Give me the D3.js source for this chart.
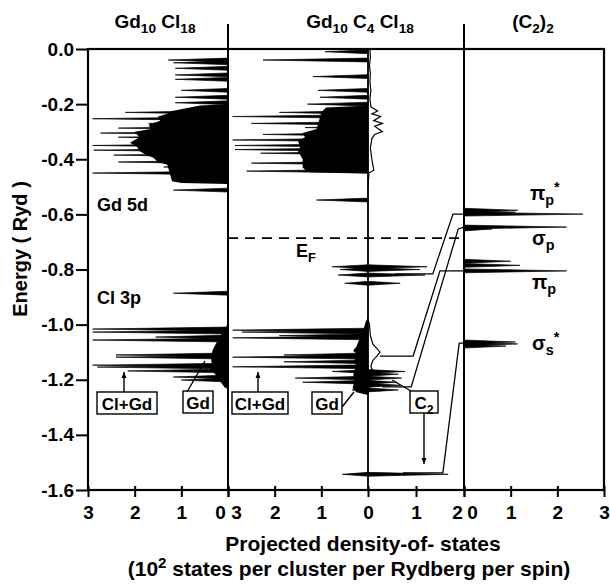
<!DOCTYPE html>
<html>
<head>
<meta charset="utf-8">
<script src="https://cdn.jsdelivr.net/npm/d3@7"></script>
<style>
body { margin: 0; background: #fff; }
text { font-family: "Liberation Sans", Arial, sans-serif; fill: #000; font-weight: bold; }
</style>
</head>
<body>
<script>
// energy ticks (Ryd)
var yTicks = [0, -0.2, -0.4, -0.6, -0.8, -1.0, -1.2, -1.4, -1.6]
var yTickLabels = ['0.0', '-0.2', '-0.4', '-0.6', '-0.8', '-1.0', '-1.2', '-1.4', '-1.6']

// panel 1: Gd10Cl18  [energy, dos]
var p1Spikes = [[-0.040, 1.28], [-0.050, 1.17], [-0.070, 1.13], [-0.094, 1.13], [-0.110, 1.13],
  [-0.150, 1.0], [-0.175, 1.13], [-0.195, 1.13], [-0.230, 2.2], [-0.253, 2.9], [-0.270, 1.7],
  [-0.287, 2.35], [-0.305, 2.73], [-0.320, 2.35], [-0.350, 2.9], [-0.367, 2.88], [-0.385, 2.45],
  [-0.410, 2.35], [-0.428, 1.38], [-0.450, 2.9], [-0.512, 1.17],
  [-0.886, 1.17],
  [-1.016, 2.9], [-1.027, 2.9], [-1.045, 1.55], [-1.056, 2.9], [-1.110, 2.4], [-1.118, 2.4],
  [-1.147, 2.9], [-1.154, 2.8], [-1.168, 2.15], [-1.190, 1.17], [-1.201, 1.0]]
var p1Band5d = [[-0.200, 0], [-0.205, 0.6], [-0.215, 0.9], [-0.225, 1.2], [-0.235, 1.3], [-0.245, 1.5],
  [-0.260, 1.45], [-0.275, 1.7], [-0.290, 1.65], [-0.300, 2.0], [-0.320, 1.9], [-0.340, 2.1],
  [-0.355, 1.95], [-0.370, 1.9], [-0.385, 1.75], [-0.395, 1.6], [-0.410, 1.5], [-0.420, 1.3],
  [-0.450, 1.25], [-0.480, 1.2], [-0.486, 1.0], [-0.490, 0]]
var p1BandGd = [[-0.995, 0], [-1.010, 0.05], [-1.030, 0.12], [-1.060, 0.23], [-1.092, 0.33],
  [-1.110, 0.35], [-1.130, 0.36], [-1.150, 0.33], [-1.160, 0.38], [-1.175, 0.3], [-1.190, 0.23],
  [-1.210, 0.15], [-1.226, 0.08], [-1.235, 0]]

// panel 2: Gd10C4Cl18, Gd + Cl part (to the left)
var p2Spikes = [[-0.010, 0.92], [-0.040, 2.25], [-0.100, 1.18], [-0.150, 1.07], [-0.175, 1.03],
  [-0.200, 1.3], [-0.230, 1.9], [-0.245, 2.9], [-0.270, 2.5], [-0.285, 1.35], [-0.310, 2.25],
  [-0.330, 2.9], [-0.350, 2.85], [-0.365, 2.85], [-0.378, 2.3], [-0.400, 1.35], [-0.414, 2.5],
  [-0.443, 2.6], [-0.548, 1.1],
  [-0.790, 0.77], [-0.800, 0.6], [-0.820, 0.64], [-0.850, 0.5],
  [-1.020, 2.9], [-1.027, 2.7], [-1.040, 1.9], [-1.048, 2.9], [-1.110, 1.8], [-1.118, 2.9],
  [-1.135, 1.8], [-1.153, 2.9], [-1.170, 0.77], [-1.194, 1.56], [-1.209, 1.4], [-1.237, 0.34],
  [-1.543, 0.55]]
var p2Band5d = [[-0.205, 0], [-0.212, 0.9], [-0.230, 1.0], [-0.260, 1.05], [-0.290, 1.1],
  [-0.305, 1.4], [-0.320, 1.35], [-0.335, 1.5], [-0.355, 1.45], [-0.370, 1.5], [-0.400, 1.4],
  [-0.430, 1.4], [-0.446, 1.3], [-0.452, 0]]
var p2BandGd = [[-0.975, 0], [-0.990, 0.05], [-1.020, 0.1], [-1.050, 0.18], [-1.080, 0.25],
  [-1.095, 0.32], [-1.110, 0.22], [-1.130, 0.3], [-1.150, 0.25], [-1.170, 0.3], [-1.190, 0.32],
  [-1.210, 0.3], [-1.230, 0.33], [-1.245, 0.25], [-1.255, 0]]

// panel 2: C2 part (to the right)
var c2Spikes = [[-0.790, 1.23], [-0.800, 1.08], [-0.820, 1.19], [-0.850, 0.67],
  [-1.170, 0.77], [-1.180, 0.63], [-1.194, 0.7], [-1.209, 0.6], [-1.220, 0.67], [-1.237, 0.63],
  [-1.543, 1.67]]
var c2Upper = [[0, 0.04], [-0.03, 0.05], [-0.06, 0.03], [-0.09, 0.05], [-0.12, 0.04], [-0.15, 0.06],
  [-0.18, 0.04], [-0.21, 0.06], [-0.225, 0.2], [-0.235, 0.08], [-0.245, 0.26], [-0.26, 0.12],
  [-0.27, 0.3], [-0.28, 0.14], [-0.29, 0.22], [-0.30, 0.3], [-0.31, 0.14], [-0.325, 0.08],
  [-0.36, 0.05], [-0.40, 0.08], [-0.44, 0.12], [-0.45, 0.02], [-0.50, 0]]
var c2Lower = [[-0.98, 0], [-1.00, 0.03], [-1.04, 0.05], [-1.07, 0.1], [-1.09, 0.2], [-1.10, 0.25],
  [-1.115, 0.18], [-1.13, 0.1], [-1.15, 0.06], [-1.17, 0.1], [-1.20, 0.05], [-1.25, 0]]

// panel 3: (C2)2
var p3Spikes = [[-0.585, 1.15], [-0.592, 1.1], [-0.599, 2.55], [-0.646, 2.2], [-0.653, 0.6],
  [-0.770, 1.0], [-0.785, 1.2], [-0.805, 2.2], [-1.063, 1.1], [-1.070, 1.15], [-1.078, 0.9]]

// correlation lines, [energy, C2 dos in panel 2]
var corrLines = [
  [[-0.599, 2.0], [-0.599, 1.77], [-0.816, 1.35], [-0.816, 0.56]],
  [[-0.646, 2.0], [-0.653, 1.88], [-1.226, 0.9], [-1.226, 0.3]],
  [[-0.805, 2.0], [-0.805, 1.5], [-1.114, 0.94], [-1.114, 0.25]],
  [[-1.067, 2.0], [-1.067, 1.9], [-1.538, 1.56], [-1.538, 0.73]]
]
var fermi = -0.686

var svg = d3.select('body')
  .append('svg')
  .attr('width', 610)
  .attr('height', 585)

var y = d3.scaleLinear().domain([0, -1.6]).range([49, 490])
var x1 = d3.scaleLinear().domain([0, 3]).range([228, 88])
var x2L = d3.scaleLinear().domain([0, 3]).range([368, 228])
var x2R = d3.scaleLinear().domain([0, 2]).range([368, 464])
var x3 = d3.scaleLinear().domain([0, 3]).range([464, 604])

var hw = 0.007

function drawSpikes(xs, data) {
  svg.append('g').selectAll('path')
    .data(data)
    .enter().append('path')
    .attr('d', function(d) {
      return 'M' + xs(0) + ',' + y(d[0] + hw) + 'L' + xs(d[1]) + ',' + y(d[0]) +
        'L' + xs(0) + ',' + y(d[0] - hw) + 'Z'
    })
    .attr('fill', 'black')
    .attr('stroke', 'black')
    .attr('stroke-width', 0.7)
}

function drawBand(xs, data) {
  var area = d3.area()
    .y(function(d) { return y(d[0]) })
    .x0(xs(0))
    .x1(function(d) { return xs(d[1]) })
  svg.append('path').datum(data)
    .attr('d', area)
    .attr('fill', 'black')
}

drawBand(x1, p1Band5d)
drawBand(x1, p1BandGd)
drawSpikes(x1, p1Spikes)
drawBand(x2L, p2Band5d)
drawBand(x2L, p2BandGd)
drawSpikes(x2L, p2Spikes)
drawSpikes(x2R, c2Spikes)
drawSpikes(x3, p3Spikes)

var wiggle = d3.line()
  .x(function(d) { return x2R(d[1]) })
  .y(function(d) { return y(d[0]) })
;[c2Upper, c2Lower].forEach(function(c) {
  svg.append('path').datum(c)
    .attr('d', wiggle)
    .attr('fill', 'none')
    .attr('stroke', 'black')
    .attr('stroke-width', 1.2)
})

svg.append('g').selectAll('path')
  .data(corrLines)
  .enter().append('path')
  .attr('d', wiggle)
  .attr('fill', 'none')
  .attr('stroke', 'black')
  .attr('stroke-width', 1.3)

// Fermi level
svg.append('line')
  .attr('x1', x2L(3)).attr('x2', x3(0))
  .attr('y1', y(fermi)).attr('y2', y(fermi))
  .attr('stroke', 'black')
  .attr('stroke-width', 1.8)
  .attr('stroke-dasharray', '10,7')

// frame and panel dividers
svg.append('rect')
  .attr('x', 88).attr('y', 49)
  .attr('width', 516).attr('height', 441)
  .attr('fill', 'none')
  .attr('stroke', 'black')
  .attr('stroke-width', 2.2)
;[228, 464].forEach(function(xv) {
  svg.append('line')
    .attr('x1', xv).attr('x2', xv)
    .attr('y1', 24).attr('y2', 490)
    .attr('stroke', 'black').attr('stroke-width', 2)
})
svg.append('line')
  .attr('x1', 368).attr('x2', 368)
  .attr('y1', 49).attr('y2', 490)
  .attr('stroke', 'black').attr('stroke-width', 1.8)

// axes
var yAxis = svg.append('g')
  .attr('transform', 'translate(88,0)')
  .call(d3.axisLeft(y).tickValues(yTicks).tickSize(12).tickPadding(2)
    .tickFormat(function(d, i) { return yTickLabels[i] }))
yAxis.select('.domain').remove()
yAxis.selectAll('line').attr('stroke-width', 2)
yAxis.selectAll('text').attr('font-size', 19).attr('font-family', '"Liberation Sans", Arial')
  .attr('font-weight', 'bold')

function bottomAxis(xs, ticks, shift) {
  var g = svg.append('g')
    .attr('transform', 'translate(0,490)')
    .call(d3.axisBottom(xs).tickValues(ticks).tickSize(7).tickPadding(9)
      .tickFormat(d3.format('d')))
  g.select('.domain').remove()
  g.selectAll('line').attr('stroke-width', 2).attr('y1', -4)
  g.selectAll('text')
    .attr('font-size', 19)
    .attr('font-family', '"Liberation Sans", Arial')
    .attr('font-weight', 'bold')
    .attr('dx', function(d) { return shift[d] || 0 })
}
bottomAxis(x1, [3, 2, 1, 0], {0: -8})
bottomAxis(x2L, [3, 2, 1, 0], {3: 8})
bottomAxis(x2R, [1, 2], {2: -7})
bottomAxis(x3, [0, 1, 2, 3], {0: 8})

// text helper: parts of [string, 'sub' | 'sup' | '']
function rich(x, yy, parts, size, anchor) {
  var t = svg.append('text')
    .attr('x', x).attr('y', yy)
    .attr('font-size', size)
    .attr('text-anchor', anchor || 'start')
  var off = 0
  parts.forEach(function(p) {
    var target = p[1] === 'sub' ? 5 : p[1] === 'sup' ? -8 : 0
    t.append('tspan')
      .attr('dy', target - off)
      .attr('font-size', p[1] ? size * 0.72 : size)
      .text(p[0])
    off = target
  })
  return t
}

rich(155, 28, [['Gd', ''], ['10', 'sub'], [' Cl', ''], ['18', 'sub']], 19, 'middle')
rich(360, 28, [['Gd', ''], ['10', 'sub'], [' C', ''], ['4', 'sub'], ['  Cl', ''], ['18', 'sub']], 19, 'middle')
rich(533, 28, [['(C', ''], ['2', 'sub'], [')', ''], ['2', 'sub']], 19, 'middle')

rich(97, 211, [['Gd  5d', '']], 18)
rich(97, 304, [['Cl  3p', '']], 18)
rich(296, 257, [['E', ''], ['F', 'sub']], 18)

rich(530, 200, [['π', ''], ['p', 'sub'], ['*', 'sup']], 20)
rich(532, 245, [['σ', ''], ['p', 'sub']], 20)
rich(532, 289, [['π', ''], ['p', 'sub']], 20)
rich(532, 350, [['σ', ''], ['s', 'sub'], ['*', 'sup']], 20)

svg.append('text')
  .attr('transform', 'translate(27,249) rotate(-90)')
  .attr('text-anchor', 'middle')
  .attr('font-size', 20)
  .text('Energy ( Ryd )')
rich(363, 551, [['Projected density-of- states', '']], 21, 'middle')
rich(349, 576, [['(10', ''], ['2', 'sup'], ['  states per cluster per Rydberg per spin)', '']], 21, 'middle')

// labelled boxes
var boxes = [
  {x: 97, y: 392, w: 60, parts: [['Cl+Gd', '']]},
  {x: 183, y: 391, w: 30, parts: [['Gd', '']]},
  {x: 232, y: 392, w: 56, parts: [['Cl+Gd', '']]},
  {x: 312, y: 392, w: 30, parts: [['Gd', '']]},
  {x: 410, y: 391, w: 28, parts: [['C', ''], ['2', 'sub']]}
]
boxes.forEach(function(b) {
  svg.append('rect')
    .attr('x', b.x).attr('y', b.y)
    .attr('width', b.w).attr('height', 22)
    .attr('fill', 'white')
    .attr('stroke', 'black')
    .attr('stroke-width', 1.4)
  rich(b.x + b.w / 2, b.y + 18, b.parts, 17, 'middle')
})

function arrow(xa, ya, xb, yb, head) {
  svg.append('line')
    .attr('x1', xa).attr('y1', ya).attr('x2', xb).attr('y2', yb)
    .attr('stroke', 'black').attr('stroke-width', 1.4)
  if (head) {
    var dir = yb < ya ? 1 : -1
    svg.append('path')
      .attr('d', 'M' + xb + ',' + yb + 'L' + (xb - 2.5) + ',' + (yb + dir * 6) +
        'L' + (xb + 2.5) + ',' + (yb + dir * 6) + 'Z')
      .attr('fill', 'black')
  }
}
arrow(124, 392, 124, 372, true)
arrow(258, 392, 258, 372, true)
arrow(424, 413, 424, 464, true)
arrow(187, 392, 205, 361, false)
arrow(342, 407, 354, 392, false)
arrow(411, 391, 392, 380, false)
</script>
</body>
</html>
